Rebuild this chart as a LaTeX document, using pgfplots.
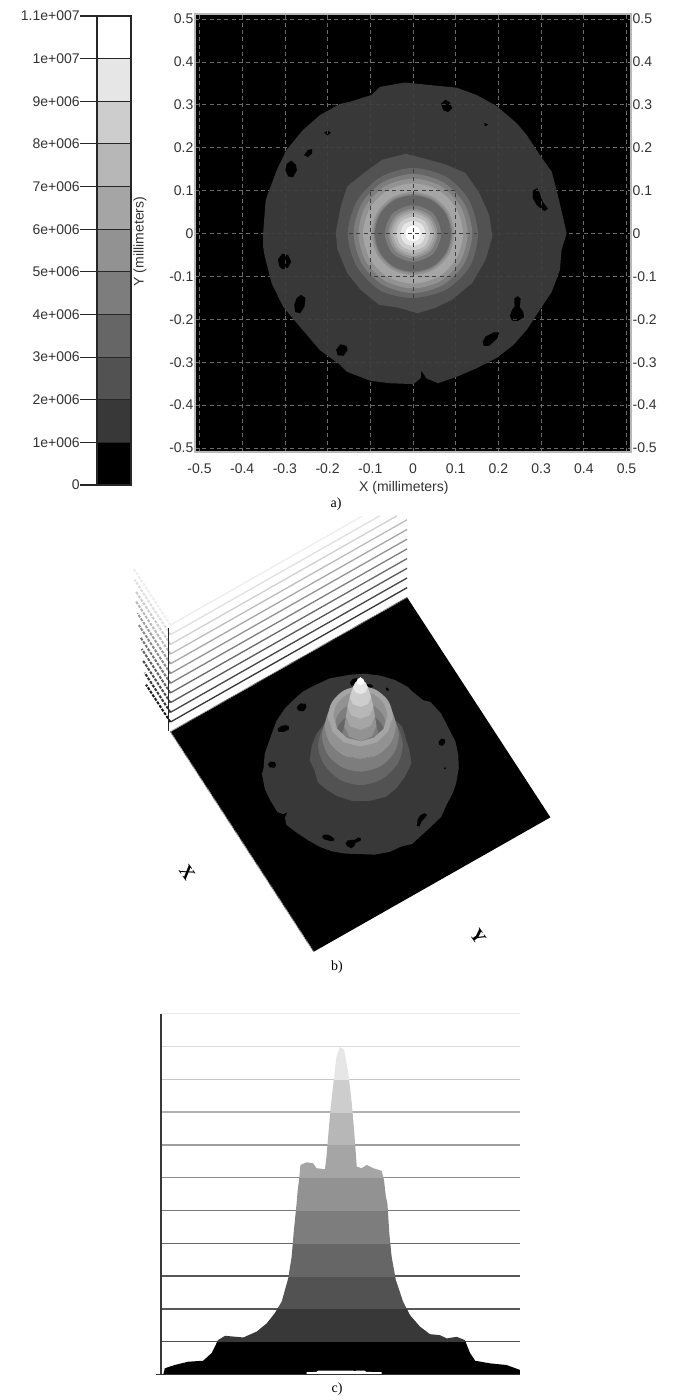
\documentclass[border=0pt]{standalone}
\usepackage{fontspec}
\usepackage{pgfplots}
\usepackage{pgfplotstable}
\pgfplotsset{compat=1.18}
\setmainfont{Liberation Sans}
\newfontfamily\capfont{Liberation Serif}

% grey level of each 1e6 band
\definecolor{c0}{HTML}{000000}
\definecolor{c1}{HTML}{383838}
\definecolor{c2}{HTML}{525252}
\definecolor{c3}{HTML}{666666}
\definecolor{c4}{HTML}{7D7D7D}
\definecolor{c5}{HTML}{929292}
\definecolor{c6}{HTML}{A5A5A5}
\definecolor{c7}{HTML}{B7B7B7}
\definecolor{c8}{HTML}{CDCDCD}
\definecolor{c9}{HTML}{E6E6E6}
\definecolor{c10}{HTML}{FFFFFF}
\definecolor{txt}{HTML}{333333}

% contour outlines, in mm, shared by a) and b)
\pgfplotstableread{
x y
-0.019 0.352
0.040 0.346
0.102 0.340
0.149 0.323
0.196 0.297
0.243 0.257
0.266 0.230
0.297 0.183
0.325 0.144
0.340 0.086
0.360 0.000
0.348 -0.038
0.344 -0.085
0.325 -0.136
0.297 -0.178
0.266 -0.225
0.235 -0.260
0.196 -0.290
0.149 -0.314
0.102 -0.334
0.059 -0.349
0.032 -0.338
0.020 -0.320
0.018 -0.337
0.001 -0.351
-0.054 -0.349
-0.101 -0.343
-0.155 -0.322
-0.171 -0.306
-0.218 -0.272
-0.265 -0.217
-0.304 -0.171
-0.331 -0.116
-0.347 -0.054
-0.351 -0.031
-0.351 0.000
-0.345 0.078
-0.319 0.148
-0.296 0.195
-0.258 0.241
-0.218 0.276
-0.171 0.302
-0.148 0.307
-0.097 0.323
-0.077 0.342
}\tDisk

\pgfplotstableread{
x y
-0.285 0.170
-0.274 0.160
-0.272 0.147
-0.281 0.131
-0.292 0.133
-0.299 0.147
-0.296 0.162
nan nan
-0.255 0.183
-0.246 0.195
-0.236 0.197
-0.236 0.187
-0.246 0.178
nan nan
-0.208 0.235
-0.200 0.240
-0.192 0.235
-0.200 0.229
nan nan
0.066 0.303
0.076 0.312
0.086 0.306
0.092 0.292
0.082 0.283
0.070 0.288
nan nan
0.166 0.258
0.176 0.254
0.169 0.250
nan nan
0.281 0.100
0.291 0.106
0.297 0.094
0.303 0.075
0.316 0.058
0.308 0.052
0.290 0.066
0.280 0.083
nan nan
-0.316 -0.060
-0.306 -0.047
-0.293 -0.050
-0.285 -0.066
-0.293 -0.080
-0.306 -0.083
-0.314 -0.075
nan nan
-0.262 -0.143
-0.252 -0.150
-0.254 -0.170
-0.264 -0.186
-0.276 -0.183
-0.278 -0.165
-0.272 -0.150
nan nan
-0.180 -0.271
-0.170 -0.258
-0.156 -0.262
-0.153 -0.272
-0.163 -0.285
-0.176 -0.284
nan nan
0.163 -0.253
0.170 -0.240
0.190 -0.230
0.202 -0.231
0.197 -0.245
0.178 -0.262
0.166 -0.262
nan nan
0.227 -0.192
0.232 -0.178
0.238 -0.170
0.237 -0.152
0.245 -0.146
0.252 -0.152
0.250 -0.172
0.258 -0.182
0.260 -0.195
0.245 -0.204
0.232 -0.203
}\tHoles

\pgfplotstableread{
x y
-0.017 0.186
0.022 0.176
0.076 0.161
0.123 0.141
0.155 0.095
0.178 0.044
0.186 -0.006
0.170 -0.061
0.139 -0.115
0.092 -0.154
0.053 -0.173
0.010 -0.186
-0.033 -0.173
-0.080 -0.166
-0.123 -0.131
-0.154 -0.092
-0.177 -0.037
-0.181 0.002
-0.169 0.064
-0.154 0.110
-0.115 0.141
-0.072 0.172
}\rTwo

\pgfplotstableread[row sep=\\]{x y\\ 0.000 0.153\\ 0.078 0.132\\ 0.131 0.078\\ 0.152 0.000\\ 0.134 -0.075\\ 0.079 -0.130\\ 0.000 -0.150\\ -0.076 -0.133\\ -0.132 -0.076\\ -0.153 0.000\\ -0.130 0.078\\ -0.075 0.132\\}\rThree
\pgfplotstableread[row sep=\\]{x y\\ 0 0.139\\ 0.070 0.120\\ 0.120 0.070\\ 0.139 0\\ 0.120 -0.070\\ 0.070 -0.120\\ 0 -0.139\\ -0.070 -0.120\\ -0.120 -0.070\\ -0.139 0\\ -0.120 0.070\\ -0.070 0.120\\}\rFour
\pgfplotstableread[row sep=\\]{x y\\ 0 0.128\\ 0.064 0.111\\ 0.111 0.064\\ 0.128 0\\ 0.111 -0.064\\ 0.064 -0.111\\ 0 -0.128\\ -0.064 -0.111\\ -0.111 -0.064\\ -0.128 0\\ -0.111 0.064\\ -0.064 0.111\\}\rFive
\pgfplotstableread[row sep=\\]{x y\\ 0 0.117\\ 0.059 0.101\\ 0.101 0.059\\ 0.117 0\\ 0.101 -0.059\\ 0.059 -0.101\\ 0 -0.117\\ -0.059 -0.101\\ -0.101 -0.059\\ -0.117 0\\ -0.101 0.059\\ -0.059 0.101\\}\rSix
\pgfplotstableread[row sep=\\]{x y\\ 0 0.097\\ 0.049 0.084\\ 0.084 0.049\\ 0.097 0\\ 0.084 -0.049\\ 0.049 -0.084\\ 0 -0.097\\ -0.049 -0.084\\ -0.084 -0.049\\ -0.097 0\\ -0.084 0.049\\ -0.049 0.084\\}\iFive
\pgfplotstableread[row sep=\\]{x y\\ 0 0.092\\ 0.046 0.080\\ 0.080 0.046\\ 0.092 0\\ 0.080 -0.046\\ 0.046 -0.080\\ 0 -0.092\\ -0.046 -0.080\\ -0.080 -0.046\\ -0.092 0\\ -0.080 0.046\\ -0.046 0.080\\}\iFour
\pgfplotstableread[row sep=\\]{x y\\ 0 0.089\\ 0.045 0.077\\ 0.077 0.045\\ 0.089 0\\ 0.077 -0.045\\ 0.045 -0.077\\ 0 -0.089\\ -0.045 -0.077\\ -0.077 -0.045\\ -0.089 0\\ -0.077 0.045\\ -0.045 0.077\\}\iThree
\pgfplotstableread[row sep=\\]{x y\\ 0 0.066\\ 0.047 0.047\\ 0.066 0\\ 0.047 -0.047\\ 0 -0.066\\ -0.047 -0.047\\ -0.066 0\\ -0.047 0.047\\}\sFour
\pgfplotstableread[row sep=\\]{x y\\ 0 0.058\\ 0.041 0.041\\ 0.058 0\\ 0.041 -0.041\\ 0 -0.058\\ -0.041 -0.041\\ -0.058 0\\ -0.041 0.041\\}\sFive
\pgfplotstableread[row sep=\\]{x y\\ 0 0.053\\ 0.037 0.037\\ 0.053 0\\ 0.037 -0.037\\ 0 -0.053\\ -0.037 -0.037\\ -0.053 0\\ -0.037 0.037\\}\sSix
\pgfplotstableread[row sep=\\]{x y\\ 0 0.047\\ 0.033 0.033\\ 0.047 0\\ 0.033 -0.033\\ 0 -0.047\\ -0.033 -0.033\\ -0.047 0\\ -0.033 0.033\\}\sSeven
\pgfplotstableread[row sep=\\]{x y\\ 0 0.039\\ 0.028 0.028\\ 0.039 0\\ 0.028 -0.028\\ 0 -0.039\\ -0.028 -0.028\\ -0.039 0\\ -0.028 0.028\\}\sEight
\pgfplotstableread[row sep=\\]{x y\\ 0 0.029\\ 0.021 0.021\\ 0.029 0\\ 0.021 -0.021\\ 0 -0.029\\ -0.021 -0.021\\ -0.029 0\\ -0.021 0.021\\}\sNine
\pgfplotstableread[row sep=\\]{x y\\ 0 0.018\\ 0.013 0.013\\ 0.018 0\\ 0.013 -0.013\\ 0 -0.018\\ -0.013 -0.013\\ -0.018 0\\ -0.013 0.013\\}\sTen

% c) silhouette: x in mm, height in 1e6
\pgfplotstableread{
x y
-0.465 0.00
-0.461 0.19
-0.435 0.29
-0.400 0.39
-0.361 0.42
-0.339 0.65
-0.322 1.05
-0.304 1.18
-0.256 1.13
-0.221 1.31
-0.195 1.56
-0.174 1.87
-0.156 2.22
-0.139 2.93
-0.130 3.59
-0.124 4.41
-0.117 5.22
-0.114 5.63
-0.110 6.00
-0.107 6.39
-0.091 6.47
-0.074 6.44
-0.065 6.29
-0.043 6.26
-0.039 6.64
-0.034 7.35
-0.028 8.16
-0.020 8.98
-0.013 9.69
-0.004 9.99
0.007 9.89
0.018 9.18
0.027 8.27
0.033 7.45
0.040 6.34
0.053 6.29
0.066 6.39
0.083 6.29
0.105 6.21
0.111 5.93
0.116 5.42
0.120 5.22
0.125 4.30
0.131 3.59
0.142 2.88
0.161 2.22
0.179 1.81
0.205 1.46
0.231 1.23
0.257 1.20
0.275 1.10
0.301 1.15
0.322 1.05
0.336 0.65
0.349 0.42
0.388 0.34
0.431 0.29
0.466 0.14
0.466 0.00
}\tProfile

\newcommand{\flatring}[2]{\addplot[fill=#2,draw=none,smooth cycle] table {#1};}
\newcommand{\highring}[3]{\addplot3[fill=#2,draw=none,smooth cycle] table[x=x,y=y,z=x,z expr=#3] {#1};}
\newcommand{\lab}{\fontsize{10.5}{12}\selectfont}

\begin{document}
\begin{tikzpicture}
\path[use as bounding box] (0,0) rectangle (507pt,-1050pt);

% a) colour scale
\begin{axis}[
  at={(72.75pt,-363.75pt)}, anchor=south west, scale only axis,
  width=25.5pt, height=351.75pt,
  xmin=0, xmax=1, ymin=0, ymax=11,
  axis on top, axis line style={draw=black!85, line width=0.8pt},
  xtick=\empty, ytick pos=left, tick align=outside,
  ytick={0,1,2,3,4,5,6,7,8,9,10,11},
  yticklabels={0,1e+006,2e+006,3e+006,4e+006,5e+006,6e+006,7e+006,8e+006,9e+006,1e+007,1.1e+007},
  major tick length=12.75pt,
  tick style={draw=black!85, line width=0.8pt},
  ymajorgrids, grid style={draw=black!85, line width=0.8pt},
  yticklabel style={font=\lab, text=txt, inner sep=0pt},
]
\addplot[fill=c0,draw=none] coordinates {(0,0)(1,0)(1,1)(0,1)};
\addplot[fill=c1,draw=none] coordinates {(0,1)(1,1)(1,2)(0,2)};
\addplot[fill=c2,draw=none] coordinates {(0,2)(1,2)(1,3)(0,3)};
\addplot[fill=c3,draw=none] coordinates {(0,3)(1,3)(1,4)(0,4)};
\addplot[fill=c4,draw=none] coordinates {(0,4)(1,4)(1,5)(0,5)};
\addplot[fill=c5,draw=none] coordinates {(0,5)(1,5)(1,6)(0,6)};
\addplot[fill=c6,draw=none] coordinates {(0,6)(1,6)(1,7)(0,7)};
\addplot[fill=c7,draw=none] coordinates {(0,7)(1,7)(1,8)(0,8)};
\addplot[fill=c8,draw=none] coordinates {(0,8)(1,8)(1,9)(0,9)};
\addplot[fill=c9,draw=none] coordinates {(0,9)(1,9)(1,10)(0,10)};
\addplot[fill=c10,draw=none] coordinates {(0,10)(1,10)(1,11)(0,11)};
\end{axis}

% a) contour map
\begin{axis}[
  at={(146.25pt,-339pt)}, anchor=south west, scale only axis,
  width=327pt, height=328.5pt,
  xmin=-0.5105, xmax=0.5105, ymin=-0.5093, ymax=0.5117,
  axis background/.style={fill=black},
  axis line style={draw=black!28, line width=1pt},
  xtick={-0.5,-0.4,-0.3,-0.2,-0.1,0,0.1,0.2,0.3,0.4,0.5},
  ytick={-0.5,-0.4,-0.3,-0.2,-0.1,0,0.1,0.2,0.3,0.4,0.5},
  xticklabels={-0.5,-0.4,-0.3,-0.2,-0.1,0,0.1,0.2,0.3,0.4,0.5},
  yticklabels={-0.5,-0.4,-0.3,-0.2,-0.1,0,0.1,0.2,0.3,0.4,0.5},
  major tick length=0pt,
  grid=major,
  grid style={draw=black!58, line width=0.55pt, dash pattern=on 3pt off 2.5pt},
  xticklabel style={font=\lab, text=txt, yshift=-5.5pt},
  yticklabel style={font=\lab, text=txt, inner sep=0pt, xshift=-1pt},
  xlabel={X (millimeters)}, ylabel={Y (millimeters)},
  every axis x label/.style={at={(axis description cs:0.479,-0.083)}, anchor=center, font=\lab, text=txt},
  every axis y label/.style={at={(axis description cs:-0.126,0.4806)}, anchor=center, rotate=90, font=\lab, text=txt},
]
\addplot[fill=c1,draw=none] table {\tDisk};
\addplot[fill=black,draw=none,unbounded coords=jump] table {\tHoles};
% grid as it shows faintly through the disk
\addplot[draw=white!25!black, line width=0.55pt, dash pattern=on 3pt off 2.5pt, forget plot] coordinates {(-0.19,0.3)(0.19,0.3)};
\addplot[draw=white!25!black, line width=0.55pt, dash pattern=on 3pt off 2.5pt, forget plot] coordinates {(-0.28,0.2)(0.28,0.2)};
\addplot[draw=white!25!black, line width=0.55pt, dash pattern=on 3pt off 2.5pt, forget plot] coordinates {(-0.33,0.1)(0.33,0.1)};
\addplot[draw=white!25!black, line width=0.55pt, dash pattern=on 3pt off 2.5pt, forget plot] coordinates {(-0.35,0)(0.35,0)};
\addplot[draw=white!25!black, line width=0.55pt, dash pattern=on 3pt off 2.5pt, forget plot] coordinates {(-0.33,-0.1)(0.33,-0.1)};
\addplot[draw=white!25!black, line width=0.55pt, dash pattern=on 3pt off 2.5pt, forget plot] coordinates {(-0.28,-0.2)(0.28,-0.2)};
\addplot[draw=white!25!black, line width=0.55pt, dash pattern=on 3pt off 2.5pt, forget plot] coordinates {(-0.19,-0.3)(0.19,-0.3)};
\addplot[draw=white!25!black, line width=0.55pt, dash pattern=on 3pt off 2.5pt, forget plot] coordinates {(-0.3,-0.19)(-0.3,0.19)};
\addplot[draw=white!25!black, line width=0.55pt, dash pattern=on 3pt off 2.5pt, forget plot] coordinates {(-0.2,-0.28)(-0.2,0.28)};
\addplot[draw=white!25!black, line width=0.55pt, dash pattern=on 3pt off 2.5pt, forget plot] coordinates {(-0.1,-0.33)(-0.1,0.32)};
\addplot[draw=white!25!black, line width=0.55pt, dash pattern=on 3pt off 2.5pt, forget plot] coordinates {(0,-0.35)(0,0.35)};
\addplot[draw=white!25!black, line width=0.55pt, dash pattern=on 3pt off 2.5pt, forget plot] coordinates {(0.1,-0.33)(0.1,0.33)};
\addplot[draw=white!25!black, line width=0.55pt, dash pattern=on 3pt off 2.5pt, forget plot] coordinates {(0.2,-0.28)(0.2,0.29)};
\addplot[draw=white!25!black, line width=0.55pt, dash pattern=on 3pt off 2.5pt, forget plot] coordinates {(0.3,-0.19)(0.3,0.17)};
\addplot[fill=c2,draw=none] table {\rTwo};
\flatring{\rThree}{c3}
\flatring{\rFour}{c4}
\flatring{\rFive}{c5}
\flatring{\rSix}{c6}
\flatring{\iFive}{c5}
\flatring{\iFour}{c4}
\flatring{\iThree}{c3}
\flatring{\sFour}{c4}
\flatring{\sFive}{c5}
\flatring{\sSix}{c6}
\flatring{\sSeven}{c7}
\flatring{\sEight}{c8}
\flatring{\sNine}{c9}
\flatring{\sTen}{c10}
% the grid's dark square and cross over the centre
\addplot[draw=black!75, line width=0.7pt, dash pattern=on 3pt off 2.5pt] coordinates {(-0.1,0.1)(0.1,0.1)(0.1,-0.1)(-0.1,-0.1)(-0.1,0.1)};
\addplot[draw=black!75, line width=0.7pt, dash pattern=on 3pt off 2.5pt] coordinates {(-0.15,0)(0.15,0)};
\addplot[draw=black!75, line width=0.7pt, dash pattern=on 3pt off 2.5pt] coordinates {(0,-0.15)(0,0.15)};
\end{axis}

% a) labels on the right side
\begin{axis}[
  at={(146.25pt,-339pt)}, anchor=south west, scale only axis,
  width=327pt, height=328.5pt,
  xmin=-0.5105, xmax=0.5105, ymin=-0.5093, ymax=0.5117,
  axis line style={draw=none},
  xtick=\empty,
  ytick={-0.5,-0.4,-0.3,-0.2,-0.1,0,0.1,0.2,0.3,0.4,0.5},
  yticklabels={-0.5,-0.4,-0.3,-0.2,-0.1,0,0.1,0.2,0.3,0.4,0.5},
  yticklabel pos=right, major tick length=0pt,
  yticklabel style={font=\lab, text=txt, inner sep=0pt, xshift=1pt},
]
\end{axis}
\node[font=\capfont\fontsize{10.5}{12}\selectfont] at (252pt,-378pt) {a)};

% b) the same contours seen in perspective
\begin{axis}[
  at={(270.3pt,-580.9pt)}, anchor=origin,
  x={(107.475pt,-165pt)}, y={(177.525pt,100.8pt)}, z={(0pt,7.275pt)},
  xmin=-1, xmax=1, ymin=-1, ymax=1, zmin=0, zmax=12,
  hide axis, clip=false,
]
% back wall
\addplot3[draw=c1, line width=1pt] coordinates {(-0.5,-0.5,1)(-0.5,0.5,1)};
\addplot3[draw=black!72, line width=1pt] coordinates {(-0.5,-0.5,2)(-0.5,0.5,2)};
\addplot3[draw=black!65, line width=1pt] coordinates {(-0.5,-0.5,3)(-0.5,0.5,3)};
\addplot3[draw=black!58, line width=1pt] coordinates {(-0.5,-0.5,4)(-0.5,0.5,4)};
\addplot3[draw=black!50, line width=1pt] coordinates {(-0.5,-0.5,5)(-0.5,0.5,5)};
\addplot3[draw=black!42, line width=1pt] coordinates {(-0.5,-0.5,6)(-0.5,0.5,6)};
\addplot3[draw=black!34, line width=1pt] coordinates {(-0.5,-0.5,7)(-0.5,0.5,7)};
\addplot3[draw=black!26, line width=1pt] coordinates {(-0.5,-0.5,8)(-0.5,0.5,8)};
\addplot3[draw=black!18, line width=1pt] coordinates {(-0.5,-0.5,9)(-0.5,0.457,9)};
\addplot3[draw=black!12, line width=1pt] coordinates {(-0.5,-0.5,10)(-0.5,0.385,10)};
\addplot3[draw=black!7, line width=1pt] coordinates {(-0.5,-0.5,11)(-0.5,0.311,11)};
% side wall
\addplot3[draw=black!90, line width=1.5pt, dash pattern=on 2.2pt off 1pt] coordinates {(-0.5,-0.5,1)(-0.67,-0.5,1)};
\addplot3[draw=black!80, line width=1.5pt, dash pattern=on 2.2pt off 1pt] coordinates {(-0.5,-0.5,2)(-0.68,-0.5,2)};
\addplot3[draw=black!70, line width=1.5pt, dash pattern=on 2.2pt off 1pt] coordinates {(-0.5,-0.5,3)(-0.69,-0.5,3)};
\addplot3[draw=black!62, line width=1.5pt, dash pattern=on 2.2pt off 1pt] coordinates {(-0.5,-0.5,4)(-0.70,-0.5,4)};
\addplot3[draw=black!54, line width=1.5pt, dash pattern=on 2.2pt off 1pt] coordinates {(-0.5,-0.5,5)(-0.71,-0.5,5)};
\addplot3[draw=black!46, line width=1.5pt, dash pattern=on 2.2pt off 1pt] coordinates {(-0.5,-0.5,6)(-0.72,-0.5,6)};
\addplot3[draw=black!38, line width=1.5pt, dash pattern=on 2.2pt off 1pt] coordinates {(-0.5,-0.5,7)(-0.73,-0.5,7)};
\addplot3[draw=black!28, line width=1.5pt, dash pattern=on 2.2pt off 1pt] coordinates {(-0.5,-0.5,8)(-0.74,-0.5,8)};
\addplot3[draw=black!20, line width=1.5pt, dash pattern=on 2.2pt off 1pt] coordinates {(-0.5,-0.5,9)(-0.74,-0.5,9)};
\addplot3[draw=black!13, line width=1.5pt, dash pattern=on 2.2pt off 1pt] coordinates {(-0.5,-0.5,10)(-0.75,-0.5,10)};
\addplot3[draw=black!7, line width=1.5pt, dash pattern=on 2.2pt off 1pt] coordinates {(-0.5,-0.5,11)(-0.76,-0.5,11)};
\addplot3[draw=black!85, line width=1pt] coordinates {(-0.507,-0.503,0)(-0.507,-0.503,10.6)};
% floor
\addplot3[fill=black,draw=none] coordinates {(-0.5,-0.5,0)(0.5,-0.5,0)(0.5,0.5,0)(-0.5,0.5,0)};
\addplot3[draw=black!45, line width=0.8pt, dash pattern=on 1pt off 0.6pt] coordinates {(-0.5,-0.5,0)(0.5,-0.5,0)};
\addplot3[draw=black!45, line width=0.8pt, dash pattern=on 1pt off 0.6pt] coordinates {(-0.5,-0.5,0)(-0.5,0.5,0)};
% stacked contours up to the rim
\addplot3[fill=c1,draw=none] table[x=x,y=y,z=x,z expr=1] {\tDisk};
\addplot3[fill=black,draw=none,unbounded coords=jump] table[x=x,y=y,z=x,z expr=1] {\tHoles};
\addplot3[fill=c2,draw=none] table[x=x,y=y,z=x,z expr=2] {\rTwo};
\highring{\rThree}{c3}{3}
\highring{\rFour}{c4}{4}
\highring{\rFive}{c5}{5}
\highring{\rSix}{c6}{6}
% crater
\highring{\iFive}{c5}{6}
\highring{\iFour}{c4}{5}
\highring{\iThree}{c3}{4}
% spike: each band runs from its lower contour's near side to its upper contour's far side
\addplot3[fill=c4,draw=none] coordinates {(0.034,0.057,4)(0.064,0.016,4)(0.056,-0.034,4)(0.016,-0.064,4)(-0.034,-0.057,4)(-0.030,-0.050,5)(-0.056,-0.014,5)(-0.050,0.030,5)(-0.014,0.056,5)(0.030,0.050,5)};
\addplot3[fill=c5,draw=none] coordinates {(0.030,0.050,5)(0.056,0.014,5)(0.050,-0.030,5)(0.014,-0.056,5)(-0.030,-0.050,5)(-0.027,-0.045,6)(-0.051,-0.013,6)(-0.045,0.028,6)(-0.013,0.052,6)(0.027,0.045,6)};
\addplot3[fill=c6,draw=none] coordinates {(0.027,0.045,6)(0.051,0.013,6)(0.045,-0.028,6)(0.013,-0.052,6)(-0.027,-0.045,6)(-0.024,-0.040,7)(-0.046,-0.011,7)(-0.040,0.024,7)(-0.011,0.046,7)(0.024,0.040,7)};
\addplot3[fill=c7,draw=none] coordinates {(0.024,0.040,7)(0.046,0.011,7)(0.040,-0.024,7)(0.011,-0.046,7)(-0.024,-0.040,7)(-0.020,-0.033,8)(-0.038,-0.009,8)(-0.033,0.020,8)(-0.009,0.038,8)(0.020,0.033,8)};
\addplot3[fill=c8,draw=none] coordinates {(0.020,0.033,8)(0.038,0.009,8)(0.033,-0.020,8)(0.009,-0.038,8)(-0.020,-0.033,8)(-0.014,-0.023,9)(-0.026,-0.006,9)(-0.023,0.014,9)(-0.006,0.026,9)(0.014,0.023,9)};
\addplot3[fill=c9,draw=none] coordinates {(0.014,0.023,9)(0.026,0.006,9)(0.023,-0.014,9)(0.006,-0.026,9)(-0.014,-0.023,9)(-0.007,-0.012,9.6)(-0.014,-0.003,9.6)(-0.012,0.007,9.6)(-0.003,0.014,9.6)(0.007,0.012,9.6)};
\addplot3[fill=c10,draw=none] coordinates {(0.007,0.012,9.6)(0.014,0.003,9.6)(0.012,-0.007,9.6)(0.003,-0.014,9.6)(-0.007,-0.012,9.6)(0,0,10.05)};
% near part of the rim, which hides the foot of the spike
\addplot3[fill=c5,draw=none] coordinates {(0.066,0.110,5)(0.112,0.062,5)(0.128,-0.003,5)(0.109,-0.067,5)(0.062,-0.113,5)(-0.003,-0.128,5)(-0.066,-0.110,5)(-0.050,-0.083,6)(-0.002,-0.097,6)(0.047,-0.085,6)(0.083,-0.050,6)(0.097,-0.002,6)(0.085,0.047,6)(0.050,0.083,6)};
\addplot3[fill=c6,draw=none] coordinates {(0.060,0.100,6)(0.102,0.056,6)(0.117,-0.002,6)(0.100,-0.061,6)(0.056,-0.103,6)(-0.002,-0.117,6)(-0.060,-0.100,6)(-0.050,-0.083,6)(-0.002,-0.097,6)(0.047,-0.085,6)(0.083,-0.050,6)(0.097,-0.002,6)(0.085,0.047,6)(0.050,0.083,6)};
\end{axis}
\node[font=\capfont\bfseries\fontsize{14}{14}\selectfont, rotate=-55] at (140.5pt,-654.75pt) {X};
\node[font=\capfont\bfseries\fontsize{14}{14}\selectfont, rotate=-55] at (358.5pt,-702.75pt) {Y};
\node[font=\capfont\fontsize{10.5}{12}\selectfont] at (252.75pt,-725.25pt) {b)};

% c) side view: levels and axis line
\begin{axis}[
  at={(117pt,-1030.875pt)}, anchor=south west, scale only axis,
  width=273pt, height=270.6pt,
  xmin=-0.484, xmax=0.466, ymin=0, ymax=11,
  hide axis, clip=false,
]
\addplot[draw=black!68, line width=1pt] coordinates {(-0.471,1)(0.466,1)};
\addplot[draw=black!66, line width=1pt] coordinates {(-0.471,2)(0.466,2)};
\addplot[draw=black!66, line width=1pt] coordinates {(-0.471,3)(0.466,3)};
\addplot[draw=black!60, line width=1pt] coordinates {(-0.471,4)(0.466,4)};
\addplot[draw=black!52, line width=1pt] coordinates {(-0.471,5)(0.466,5)};
\addplot[draw=black!45, line width=1pt] coordinates {(-0.471,6)(0.466,6)};
\addplot[draw=black!38, line width=1pt] coordinates {(-0.471,7)(0.466,7)};
\addplot[draw=black!30, line width=1pt] coordinates {(-0.471,8)(0.466,8)};
\addplot[draw=black!22, line width=1pt] coordinates {(-0.471,9)(0.466,9)};
\addplot[draw=black!14, line width=1pt] coordinates {(-0.471,10)(0.466,10)};
\addplot[draw=black!9, line width=1pt] coordinates {(-0.471,11)(0.466,11)};
\addplot[draw=black!78, line width=1.1pt] coordinates {(-0.471,0)(-0.471,11)};
\end{axis}

% c) one axis per 1e6 band, each clips the same silhouette
\foreach \k/\c in {0/c0,1/c1,2/c2,3/c3,4/c4,5/c5,6/c6,7/c7,8/c8,9/c9}{
\pgfmathsetmacro{\kup}{int(\k+1)}
\begin{axis}[
  at={(117pt,{(-1374.5+32.8*\k)*0.75pt})}, anchor=south west, scale only axis,
  width=273pt, height=24.6pt,
  xmin=-0.484, xmax=0.466, ymin=\k, ymax=\kup,
  hide axis,
]
\addplot[fill=\c,draw=none] table {\tProfile};
\end{axis}
}

% c) base line and the light slit on it
\begin{axis}[
  at={(117pt,-1030.875pt)}, anchor=south west, scale only axis,
  width=273pt, height=270.6pt,
  xmin=-0.484, xmax=0.466, ymin=0, ymax=11,
  hide axis, clip=false,
]
\addplot[fill=white,draw=none] coordinates {(-0.091,0.02)(-0.091,0.07)(-0.065,0.08)(-0.060,0.12)(0.030,0.12)(0.034,0.10)(0.040,0.12)(0.060,0.12)(0.065,0.08)(0.105,0.07)(0.105,0.02)};
\addplot[draw=black!80, line width=0.8pt] coordinates {(-0.484,0)(0.466,0)};
\end{axis}
\node[font=\capfont\fontsize{10.5}{12}\selectfont] at (252.75pt,-1041.75pt) {c)};
\end{tikzpicture}
\end{document}
